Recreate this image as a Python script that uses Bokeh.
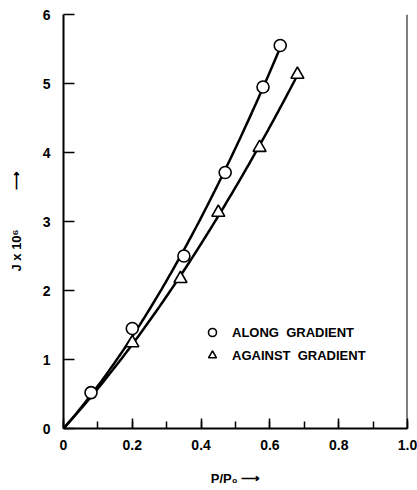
import numpy as np
from bokeh.plotting import figure
from bokeh.models import (Range1d, SingleIntervalTicker, Span, Legend, LegendItem)
from bokeh.embed import file_html
from bokeh.resources import INLINE

# Data
along_x = [0.08, 0.20, 0.35, 0.47, 0.58, 0.63]
along_y = [0.52, 1.45, 2.50, 3.71, 4.95, 5.55]
against_x = [0.20, 0.34, 0.45, 0.57, 0.68]
against_y = [1.24, 2.17, 3.13, 4.07, 5.13]
x_tick_labels = {0: "0", 0.2: "0.2", 0.4: "0.4", 0.6: "0.6", 0.8: "0.8", 1: "1.0"}
legend_labels = ["ALONG  GRADIENT", "AGAINST  GRADIENT"]

FONT = "Liberation Sans"


def fit_curve(xs, ys):
    # smooth curve through origin: y = a x + b x^2 (least squares)
    x = np.array(xs)
    y = np.array(ys)
    A = np.vstack([x, x ** 2]).T
    coef, *_ = np.linalg.lstsq(A, y, rcond=None)
    gx = np.linspace(0, x.max(), 120)
    return gx, coef[0] * gx + coef[1] * gx ** 2


p = figure(width=417, height=490, frame_width=344, frame_height=414,
           output_backend="svg", toolbar_location=None,
           x_range=Range1d(0, 1), y_range=Range1d(0, 6),
           min_border_left=63, min_border_right=10,
           min_border_top=14, min_border_bottom=62)
p.outline_line_color = None
p.xgrid.grid_line_color = None
p.ygrid.grid_line_color = None
p.background_fill_color = "white"
p.border_fill_color = "white"

# curves
gx, gy = fit_curve(along_x, along_y)
p.line(gx, gy, line_color="black", line_width=2.5)
gx2, gy2 = fit_curve(against_x, against_y)
p.line(gx2, gy2, line_color="black", line_width=2.5)

# markers
r1 = p.scatter(along_x, along_y, marker="circle", size=12, fill_color="white",
               line_color="black", line_width=1.6)
r2 = p.scatter(against_x, against_y, marker="triangle", size=13, fill_color="white",
               line_color="black", line_width=1.6)

# right border
p.add_layout(Span(location=1.0, dimension="height", line_color="black", line_width=2))

# x axis
xa = p.xaxis[0]
xa.ticker = SingleIntervalTicker(interval=0.2, num_minor_ticks=2)
xa.major_label_overrides = x_tick_labels
xa.axis_line_width = 2
xa.major_tick_in = 10
xa.major_tick_out = 0
xa.minor_tick_in = 7
xa.minor_tick_out = 0
xa.major_tick_line_width = 1.5
xa.minor_tick_line_width = 1.5
xa.major_label_standoff = 11
xa.major_label_text_font = FONT
xa.major_label_text_font_style = "bold"
xa.major_label_text_font_size = "14px"
xa.major_label_text_color = "black"
xa.axis_label = "P/P\u2080 \u27F6"
xa.axis_label_text_font = FONT
xa.axis_label_text_font_style = "bold"
xa.axis_label_text_font_size = "13px"
xa.axis_label_text_color = "black"
xa.axis_label_standoff = 18

# y axis
ya = p.yaxis[0]
ya.ticker = SingleIntervalTicker(interval=1, num_minor_ticks=0)
ya.axis_line_width = 2
ya.major_tick_in = 11
ya.major_tick_out = 0
ya.minor_tick_line_color = None
ya.major_tick_line_width = 1.5
ya.major_label_standoff = 13
ya.major_label_text_font = FONT
ya.major_label_text_font_style = "bold"
ya.major_label_text_font_size = "14px"
ya.major_label_text_color = "black"
ya.major_label_orientation = "horizontal"
ya.axis_label = "J x 10\u2076\u2003\u2003\u2003\u27F6"
ya.axis_label_text_font = FONT
ya.axis_label_text_font_style = "bold"
ya.axis_label_text_font_size = "13px"
ya.axis_label_text_color = "black"
ya.axis_label_standoff = 16

legend = Legend(items=[LegendItem(label=legend_labels[0], renderers=[r1]),
                       LegendItem(label=legend_labels[1], renderers=[r2])],
                location=(139, 63), padding=0, margin=0, spacing=3,
                glyph_width=20, glyph_height=20, label_standoff=10,
                border_line_color=None, background_fill_alpha=0,
                label_text_font=FONT, label_text_font_style="bold",
                label_text_font_size="13px", label_text_color="black")
p.add_layout(legend)

open("out.html", "w").write(file_html(p, INLINE))
